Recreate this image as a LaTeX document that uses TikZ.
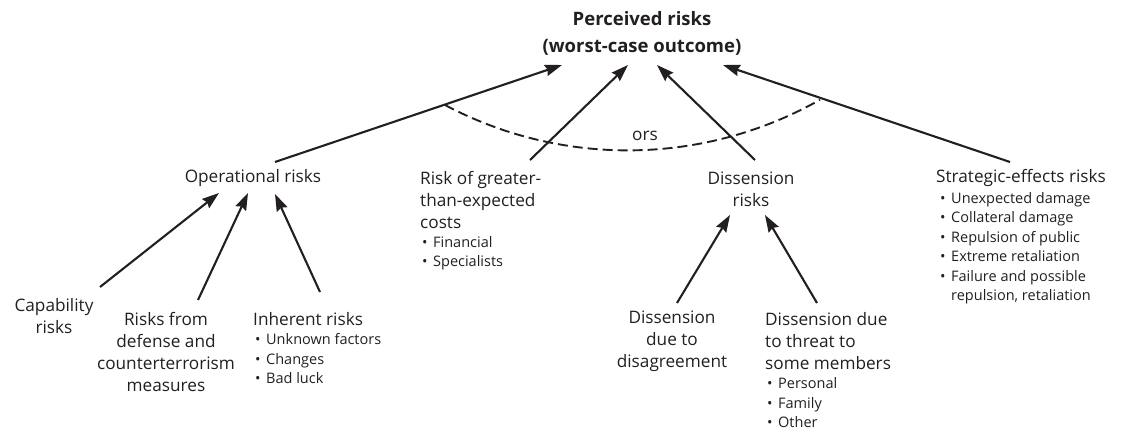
\documentclass[tikz,border=0pt]{standalone}
\usepackage{fontspec}
\setmainfont{Open Sans}
\usepackage{xcolor}
\usetikzlibrary{arrows.meta,calc}
\definecolor{ink}{HTML}{231F20}
\newcommand\bul{\makebox[11pt][l]{\textbullet}}
\begin{document}
\begin{tikzpicture}[x=1pt,y=-1pt,
    lbl/.style={inner sep=0pt,text=ink,font=\fontsize{17.2}{22}\selectfont},
    lst/.style={inner sep=0pt,text=ink,anchor=west,align=left,font=\fontsize{14.5}{19.5}\selectfont},
    arr/.style={draw=ink,line width=2.1pt,-{Stealth[length=17pt,width=11.5pt,inset=2pt]}},
    orsarc/.style={draw=ink,line width=1.9pt,dash pattern=on 10pt off 5pt}]
  \useasboundingbox (0,0) rectangle (1122,433);

  % top
  \node[lbl,align=center,font=\fontsize{18.5}{27}\selectfont\bfseries] (top) at (642,33.5) {Perceived risks\\(worst-case outcome)};

  % second row
  \node[lbl] (opr) at (253,178) {Operational risks};
  \node[lbl,align=left,anchor=west] (cst) at (420,200.5) {Risk of greater-\\than-expected\\costs};
  \node[lst] (cstl) at (422,253) {\bul Financial\\\bul Specialists};
  \node[lbl,align=center] (dis) at (751,189) {Dissension\\risks};
  \node[lbl,anchor=west] (stg) at (936,178) {Strategic-effects risks};
  \node[lst] (stgl) at (940,248) {\bul Unexpected damage\\\bul Collateral damage\\\bul Repulsion of public\\\bul Extreme retaliation\\\bul Failure and possible\\\hspace*{11pt}repulsion, retaliation};

  % third row
  \node[lbl,align=center] (cap) at (54,316) {Capability\\risks};
  \node[lbl,align=center] (dfn) at (166,352) {Risks from\\defense and\\counterterrorism\\measures};
  \node[lbl,anchor=west] (inh) at (253,319) {Inherent risks};
  \node[lst] (inhl) at (255,359) {\bul Unknown factors\\\bul Changes\\\bul Bad luck};
  \node[lbl,align=center] (dag) at (672,341) {Dissension\\due to\\disagreement};
  \node[lbl,align=left,anchor=west] (dth) at (765,341) {Dissension due\\to threat to\\some members};
  \node[lst] (dthl) at (767,403) {\bul Personal\\\bul Family\\\bul Other};

  % into the top
  \draw[arr] ($(opr)+(22,-16)$) -- ($(top)+(-80,31.5)$);
  \draw[arr] ($(cst.west)+(110,-40.5)$) -- ($(top)+(-14,31.5)$);
  \draw[arr] ($(dis)+(4,-29)$) -- ($(top)+(15,31.5)$);
  \draw[arr] ($(stg.west)+(74,-16)$) -- ($(top)+(81,31.5)$);

  % into operational risks
  \draw[arr] ($(cap)+(46,-29)$) -- ($(opr)+(-34,15)$);
  \draw[arr] ($(dfn)+(32,-52)$) -- ($(opr)+(-5,15)$);
  \draw[arr] ($(inh.west)+(67,-27)$) -- ($(opr)+(22,16)$);

  % into dissension risks
  \draw[arr] ($(dag)+(5,-38)$) -- ($(dis)+(-21,26)$);
  \draw[arr] ($(dth.west)+(52,-38)$) -- ($(dis)+(14,26)$);

  % ors
  \coordinate (orsl) at (445,105);
  \draw[orsarc] (orsl) arc[start angle=117.9,end angle=60.5,radius=390.5];
  \node[lbl] (ors) at (645,136) {ors};
\end{tikzpicture}
\end{document}
